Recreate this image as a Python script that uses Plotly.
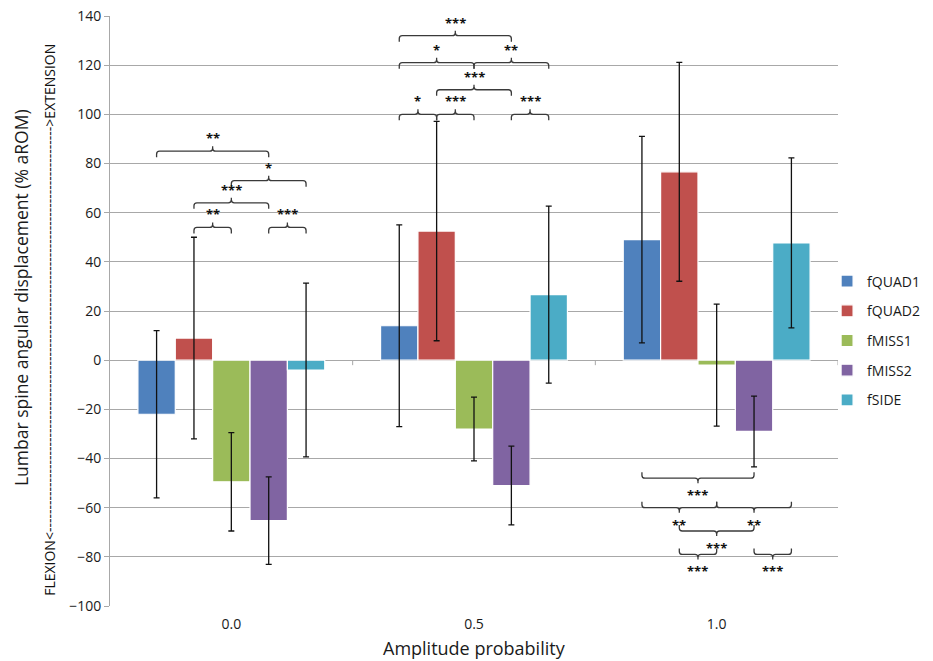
import plotly.graph_objects as go

# ---------------- data ----------------
groups = ["0.0", "0.5", "1.0"]
series = ["fQUAD1", "fQUAD2", "fMISS1", "fMISS2", "fSIDE"]
colors = ["#4F81BD", "#C0504D", "#9BBB59", "#8064A2", "#4BACC6"]

fquad1 = [-22.0, 14.0, 49.0]
fquad1_err = [34.0, 41.0, 42.0]
fquad2 = [9.0, 52.5, 76.6]
fquad2_err = [41.0, 44.6, 44.5]
fmiss1 = [-49.5, -28.0, -2.0]
fmiss1_err = [20.0, 13.0, 24.8]
fmiss2 = [-65.3, -51.0, -29.0]
fmiss2_err = [17.8, 16.0, 14.4]
fside = [-4.0, 26.7, 47.7]
fside_err = [35.3, 36.0, 34.6]

values = [fquad1, fquad2, fmiss1, fmiss2, fside]
errors = [fquad1_err, fquad2_err, fmiss1_err, fmiss2_err, fside_err]

# significance brackets: group index, from-series, to-series, level, label
brk_group = [0, 0, 0, 0, 0, 1, 1, 1, 1, 1, 1, 1, 2, 2, 2, 2, 2, 2]
brk_from = [0, 2, 1, 1, 3, 0, 0, 2, 1, 0, 1, 3, 0, 0, 2, 1, 1, 3]
brk_to = [3, 4, 3, 2, 4, 3, 2, 4, 3, 1, 2, 4, 3, 2, 4, 3, 2, 4]
brk_level = [85, 73, 64, 54, 54, 132, 121, 121, 110, 100, 100, 100,
             -48, -60, -60, -69.5, -79, -79]
brk_label = ["**", "*", "***", "**", "***", "***", "*", "**", "***", "*",
             "***", "***", "***", "**", "**", "***", "***", "***"]

y_ticks = list(range(-100, 141, 20))

# ---------------- layout constants ----------------
W, H = 933, 661
ML, MR, MT, MB = 110, 95, 16, 55
YMIN, YMAX = -100, 140
XMIN, XMAX = -0.5, 2.5
BARGAP = 0.23
n = len(series)
bw = (1 - BARGAP) / n
px_x = (XMAX - XMIN) / (W - ML - MR)
px_y = (YMAX - YMIN) / (H - MT - MB)

FONT = "Open Sans, Liberation Sans, sans-serif"
GRID = "#a8a8a8"

fig = go.Figure()
xpos = list(range(len(groups)))
for k, name in enumerate(series):
    fig.add_trace(go.Bar(
        x=xpos, y=values[k], name=name,
        marker=dict(color=colors[k], line=dict(color="white", width=1.2)),
        error_y=dict(type="data", array=errors[k], color="#111111",
                     thickness=1.3, width=3),
        legendgroup=name,
    ))

shapes = []
annotations = []

# brackets
line_style = dict(color="#3a3a3a", width=1.3)
for g, a, b, lev, lab in zip(brk_group, brk_from, brk_to, brk_level, brk_label):
    x1 = g + (a - (n - 1) / 2) * bw
    x2 = g + (b - (n - 1) / 2) * bw
    xm = (x1 + x2) / 2
    d = 1 if lev > 0 else -1
    h = 6 * px_y * d
    t = 5 * px_y * d
    rx = 3 * px_x
    ry = 3 * px_y * d
    path = (f"M{x1},{lev - h} L{x1},{lev - ry} Q{x1},{lev} {x1 + rx},{lev} "
            f"L{xm - rx},{lev} Q{xm},{lev} {xm},{lev + ry} L{xm},{lev + t} "
            f"L{xm},{lev + ry} Q{xm},{lev} {xm + rx},{lev} "
            f"L{x2 - rx},{lev} Q{x2},{lev} {x2},{lev - ry} L{x2},{lev - h}")
    shapes.append(dict(type="path", path=path, xref="x", yref="y",
                       line=line_style, layer="above"))
    annotations.append(dict(x=xm, y=lev, xref="x", yref="y", text=f"<b>{lab}</b>",
                            showarrow=False, yshift=(13 if d > 0 else -17),
                            font=dict(family=FONT, size=13, color="#111111")))

# category boundary ticks on the zero line
for bnd in [i + 0.5 for i in xpos]:
    shapes.append(dict(type="line", xref="x", yref="y", ysizemode="pixel",
                       yanchor=0, x0=bnd, x1=bnd, y0=0, y1=-5,
                       line=dict(color=GRID, width=1)))

# y-axis titles
annotations.append(dict(
    x=0, y=0.522, xref="paper", yref="paper", xanchor="center", yanchor="middle",
    xshift=-ML + 21, textangle=-90, showarrow=False,
    text="Lumbar spine angular displacement (% aROM)",
    font=dict(family=FONT, size=17.5, color="#1a1a1a")))
annotations.append(dict(
    x=0, y=0.485, xref="paper", yref="paper", xanchor="center", yanchor="middle",
    xshift=-ML + 50, textangle=-90, showarrow=False,
    text="FLEXION<" + "-" * 90 + ">EXTENSION",
    font=dict(family=FONT, size=14, color="#111111")))

fig.update_layout(
    width=W, height=H,
    margin=dict(l=ML, r=MR, t=MT, b=MB, pad=0, autoexpand=False),
    paper_bgcolor="white", plot_bgcolor="white",
    barmode="group", bargap=BARGAP, bargroupgap=0,
    font=dict(family=FONT, size=14, color="#1a1a1a"),
    showlegend=True,
    legend=dict(x=0.985, xanchor="left", y=0.45, yanchor="middle",
                font=dict(family=FONT, size=14, color="#1a1a1a"),
                tracegroupgap=8.5, itemwidth=30, bgcolor="rgba(0,0,0,0)"),
    xaxis=dict(range=[XMIN, XMAX], tickvals=xpos, ticktext=groups,
               showgrid=False, zeroline=False, showline=False, ticks="",
               automargin=False, ticklabelstandoff=8,
               tickfont=dict(family=FONT, size=14, color="#1a1a1a")),
    yaxis=dict(range=[YMIN, YMAX], tickvals=y_ticks, showgrid=True,
               automargin=False,
               gridcolor=GRID, gridwidth=1, zeroline=True, zerolinecolor=GRID,
               zerolinewidth=1.3, showline=True, linecolor=GRID, linewidth=1,
               ticks="outside", ticklen=5, tickcolor=GRID,
               tickfont=dict(family=FONT, size=14, color="#1a1a1a")),
    shapes=shapes,
    annotations=annotations + [dict(
        x=0.5, y=0, xref="paper", yref="paper", xanchor="center",
        yanchor="middle", yshift=-42, showarrow=False,
        text="Amplitude probability",
        font=dict(family=FONT, size=18, color="#1a1a1a"))],
)

fig.write_html("out.html", config={"displayModeBar": False},
               post_script="document.body.style.margin='0';")
